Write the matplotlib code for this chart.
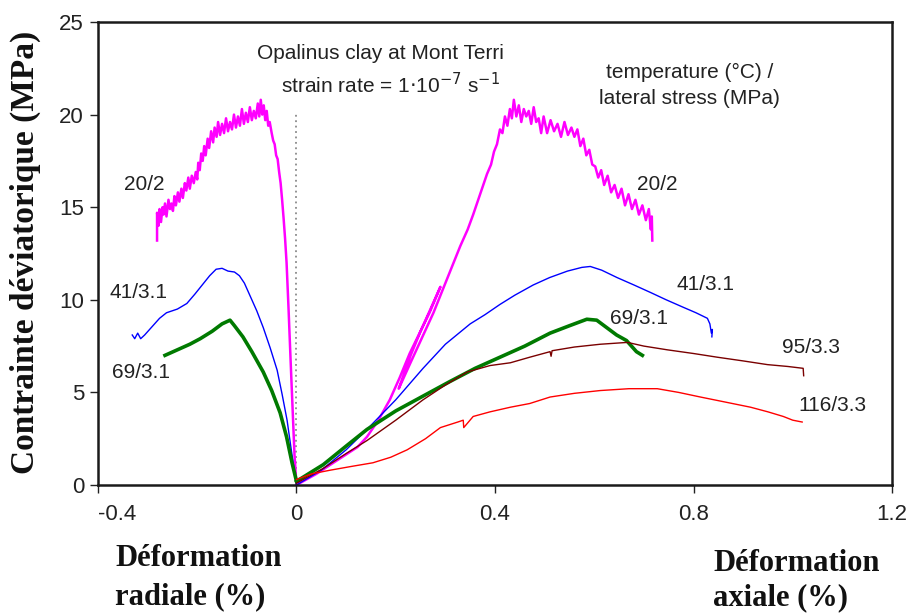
import matplotlib
matplotlib.use("Agg")
import matplotlib.pyplot as plt

# ---------------- data ----------------
# 20 °C / 2 MPa  (magenta)
m_rad_x = [-0.281, -0.281, -0.278, -0.276, -0.273, -0.270, -0.268, -0.265, -0.262, -0.258,
           -0.255, -0.252, -0.249, -0.246, -0.243, -0.239, -0.236, -0.232, -0.229, -0.225,
           -0.222, -0.218, -0.215, -0.211, -0.207, -0.203, -0.200, -0.198, -0.195, -0.192,
           -0.189, -0.186, -0.183, -0.179, -0.176, -0.172, -0.168, -0.165, -0.161, -0.158,
           -0.154, -0.150, -0.146, -0.142, -0.138, -0.134, -0.130, -0.126, -0.122, -0.118,
           -0.114, -0.110, -0.106, -0.102, -0.098, -0.094, -0.090, -0.086, -0.082, -0.078,
           -0.075, -0.072, -0.069, -0.066, -0.063, -0.060, -0.057, -0.054, -0.050, -0.047,
           -0.044, -0.041, -0.038, -0.035, -0.032, -0.029, -0.026, -0.023, -0.020, -0.016,
           -0.012, -0.008, -0.004, 0.0]
m_rad_y = [13.2, 14.7, 14.0, 14.9, 14.2, 15.0, 14.6, 15.2, 14.5, 15.4,
           14.9, 15.2, 14.8, 15.6, 15.1, 15.8, 15.3, 16.0, 15.5, 16.3,
           15.9, 16.6, 16.0, 16.7, 16.3, 16.9, 16.5, 17.4, 17.0, 17.9,
           17.5, 18.3, 17.8, 18.7, 18.2, 19.1, 18.5, 19.3, 18.8, 19.6,
           18.9, 19.5, 19.0, 19.8, 19.1, 19.6, 19.2, 20.0, 19.3, 19.9,
           19.4, 20.3, 19.5, 20.1, 19.6, 20.4, 19.7, 20.2, 19.8, 20.6,
           19.9, 20.8, 20.0, 20.5, 19.7, 20.2, 19.4, 19.6, 19.0, 18.6,
           18.4, 17.8, 17.6, 16.9, 16.3, 15.4, 14.4, 13.3, 12.0, 9.5,
           6.8, 4.2, 1.6, 0.0]
m_ax_x = [0.0, 0.04, 0.08, 0.123, 0.142, 0.165, 0.188, 0.208, 0.228, 0.248, 0.268, 0.290,
          0.270, 0.250, 0.230, 0.206, 0.228, 0.252, 0.276, 0.300, 0.315, 0.330, 0.345, 0.356,
          0.370, 0.384, 0.392, 0.398, 0.404, 0.410, 0.415, 0.420, 0.425, 0.430, 0.434, 0.438,
          0.443, 0.448, 0.453, 0.458, 0.463, 0.468, 0.473, 0.478, 0.483, 0.488, 0.493, 0.498,
          0.505, 0.512, 0.519, 0.526, 0.533, 0.540, 0.547, 0.554, 0.560, 0.566, 0.572, 0.578,
          0.584, 0.590, 0.596, 0.602, 0.608, 0.614, 0.620, 0.627, 0.634, 0.641, 0.648, 0.655,
          0.662, 0.669, 0.676, 0.683, 0.690, 0.697, 0.704, 0.710, 0.714, 0.716, 0.717]
m_ax_y = [0.0, 0.6, 1.3, 2.05, 2.6, 3.5, 4.6, 5.8, 7.1, 8.2, 9.3, 10.7,
          9.5, 8.3, 7.0, 5.2, 6.5, 7.9, 9.3, 10.9, 11.9, 12.9, 13.8, 14.6,
          15.7, 16.8, 17.3, 18.0, 18.4, 19.2, 19.0, 19.9, 19.4, 20.3, 19.8, 20.8,
          19.9, 20.5, 19.6, 20.3, 19.9, 20.2, 19.5, 20.4, 19.6, 19.8, 19.0, 19.9,
          19.0, 19.7, 19.1, 19.5, 18.8, 19.6, 18.9, 19.3, 18.8, 19.2, 18.3, 18.7,
          17.8, 18.1, 17.3, 17.2, 16.6, 17.0, 16.2, 16.7, 15.8, 16.2, 15.5, 16.0,
          15.1, 15.7, 14.9, 15.4, 14.6, 15.1, 14.3, 14.9, 13.8, 14.5, 13.2]

# 41 °C / 3.1 MPa  (blue)
b_rad_x = [-0.331, -0.326, -0.320, -0.314, -0.306, -0.296, -0.286, -0.276, -0.262, -0.240,
           -0.221, -0.205, -0.190, -0.175, -0.162, -0.150, -0.138, -0.125, -0.115, -0.105,
           -0.095, -0.080, -0.067, -0.053, -0.039, -0.029, -0.019, -0.010, 0.0]
b_rad_y = [8.1, 7.9, 8.2, 7.9, 8.1, 8.4, 8.7, 9.0, 9.3, 9.5,
           9.8, 10.3, 10.8, 11.3, 11.65, 11.7, 11.55, 11.5, 11.3, 10.9,
           10.3, 9.4, 8.5, 7.4, 6.2, 4.9, 3.5, 1.8, 0.0]
b_ax_x = [0.0, 0.05, 0.10, 0.142, 0.20, 0.255, 0.30, 0.35, 0.38, 0.41, 0.44, 0.477, 0.51,
          0.546, 0.575, 0.592, 0.615, 0.646, 0.68, 0.713, 0.745, 0.779, 0.805, 0.828, 0.833,
          0.836, 0.838, 0.837]
b_ax_y = [0.0, 0.8, 1.9, 3.0, 4.6, 6.3, 7.6, 8.7, 9.2, 9.75, 10.25, 10.8, 11.2,
          11.55, 11.75, 11.8, 11.6, 11.2, 10.8, 10.4, 10.0, 9.6, 9.3, 9.0, 8.7,
          8.2, 8.4, 8.0]

# 69 °C / 3.1 MPa  (green)
g_rad_x = [-0.265, -0.240, -0.215, -0.194, -0.170, -0.150, -0.134, -0.125, -0.108, -0.090,
           -0.067, -0.050, -0.033, -0.020, -0.009, 0.0]
g_rad_y = [7.0, 7.3, 7.6, 7.9, 8.3, 8.7, 8.9, 8.6, 8.0, 7.2,
           6.1, 5.1, 3.9, 2.6, 1.2, 0.2]
g_ax_x = [0.0, 0.054, 0.10, 0.142, 0.20, 0.255, 0.31, 0.36, 0.41, 0.46, 0.511, 0.55, 0.585,
          0.605, 0.625, 0.645, 0.665, 0.675, 0.685, 0.697]
g_ax_y = [0.2, 1.1, 2.1, 3.0, 4.0, 4.8, 5.6, 6.3, 6.9, 7.5, 8.2, 8.6, 8.95,
          8.9, 8.5, 8.1, 7.8, 7.5, 7.2, 7.0]

# 95 °C / 3.3 MPa  (brown)
r95_ax_x = [0.0, 0.054, 0.10, 0.142, 0.20, 0.255, 0.30, 0.344, 0.39, 0.431, 0.47, 0.511,
            0.513, 0.515, 0.56, 0.612, 0.667, 0.70, 0.747, 0.80, 0.848, 0.90, 0.949, 0.99,
            1.021, 1.022]
r95_ax_y = [0.1, 0.9, 1.7, 2.4, 3.5, 4.6, 5.4, 6.1, 6.45, 6.6, 6.9, 7.2,
            6.95, 7.25, 7.45, 7.6, 7.7, 7.5, 7.3, 7.1, 6.9, 6.7, 6.5, 6.4,
            6.3, 5.9]

# 116 °C / 3.3 MPa  (red)
r116_ax_x = [0.0, 0.03, 0.068, 0.11, 0.154, 0.19, 0.223, 0.26, 0.29, 0.325, 0.336, 0.337,
             0.356, 0.39, 0.431, 0.47, 0.511, 0.56, 0.612, 0.67, 0.727, 0.77, 0.814, 0.86,
             0.915, 0.95, 0.981, 1.0, 1.019]
r116_ax_y = [0.3, 0.6, 0.8, 1.0, 1.2, 1.5, 1.9, 2.5, 3.1, 3.4, 3.5, 3.1,
             3.7, 3.95, 4.2, 4.4, 4.75, 4.95, 5.1, 5.2, 5.2, 5.0, 4.75, 4.5,
             4.2, 3.95, 3.7, 3.5, 3.4]

x_ticks = [-0.4, 0, 0.4, 0.8, 1.2]
x_tick_labels = ["-0.4", "0", "0.4", "0.8", "1.2"]
y_ticks = [0, 5, 10, 15, 20, 25]

labels_left = [("20/2", -0.307, 16.2), ("41/3.1", -0.319, 10.4), ("69/3.1", -0.313, 6.1)]
labels_right = [("20/2", 0.727, 16.2), ("41/3.1", 0.824, 10.8), ("69/3.1", 0.691, 9.0),
                ("95/3.3", 1.037, 7.45), ("116/3.3", 1.080, 4.3)]

# ---------------- figure ----------------
fig = plt.figure(figsize=(9.12, 6.14), dpi=100)
ax = fig.add_axes([98/912, 1 - 485/614, (892 - 98)/912, (485 - 22)/614])

magenta = "#ff00ff"
blue = "#0000ff"
green = "#007a00"
brown = "#7a0000"
red = "#ff0000"

ax.plot([0, 0], [0, 20.1], color="#8a8a8a", lw=1.3, ls=(0, (1, 2)))

ax.plot(m_rad_x, m_rad_y, color=magenta, lw=1.8)
ax.plot(m_ax_x, m_ax_y, color=magenta, lw=1.8)
ax.plot(b_rad_x, b_rad_y, color=blue, lw=1.0)
ax.plot(b_ax_x, b_ax_y, color=blue, lw=1.0)
ax.plot(g_rad_x, g_rad_y, color=green, lw=2.6)
ax.plot(g_ax_x, g_ax_y, color=green, lw=2.6)
ax.plot(r95_ax_x, r95_ax_y, color=brown, lw=1.0)
ax.plot(r116_ax_x, r116_ax_y, color=red, lw=1.0)

ax.set_xlim(-0.4, 1.2)
ax.set_ylim(0, 25)
ax.set_xticks(x_ticks)
ax.set_xticklabels(x_tick_labels)
ax.set_yticks(y_ticks)

for lab in ax.get_xticklabels() + ax.get_yticklabels():
    lab.set_fontfamily(["Liberation Sans", "DejaVu Sans"])
    lab.set_fontsize(16)
    lab.set_color("#222222")
ax.get_xticklabels()[0].set_horizontalalignment("left")

ax.tick_params(axis="both", direction="out", length=6, width=1.0, color="#222222")
ax.tick_params(axis="x", pad=8)
ax.tick_params(axis="y", pad=4)
for s in ax.spines.values():
    s.set_linewidth(1.8)
    s.set_color("#1a1a1a")

txt_kw = dict(family=["Liberation Sans", "DejaVu Sans"], fontsize=15, color="#222222",
              ha="center", va="center")
for t, x, y in labels_left + labels_right:
    ax.text(x, y, t, **txt_kw)

ax.text(0.169, 23.3, "Opalinus clay at Mont Terri", **txt_kw)
ax.text(0.189, 21.6, r"strain rate = 1$\cdot$10$^{-7}$ s$^{-1}$", **txt_kw)
ax.text(0.792, 22.3, "temperature (°C) /", **txt_kw)
ax.text(0.792, 20.85, "lateral stress (MPa)", **txt_kw)

serif = dict(family=["Liberation Serif", "DejaVu Serif"], fontweight="bold", color="#111111")
fig.text(25/912, 1 - 252/614, "Contrainte déviatorique (MPa)", rotation=90,
         ha="center", va="center", fontsize=24, **serif)
fig.text(115/912, 1 - 566/614, "Déformation", ha="left", va="baseline", fontsize=22, **serif)
fig.text(115/912, 1 - 604/614, "radiale (%)", ha="left", va="baseline", fontsize=22, **serif)
fig.text(713/912, 1 - 571/614, "Déformation", ha="left", va="baseline", fontsize=22, **serif)
fig.text(713/912, 1 - 605/614, "axiale (%)", ha="left", va="baseline", fontsize=22, **serif)

fig.savefig("out.png", dpi=100)
